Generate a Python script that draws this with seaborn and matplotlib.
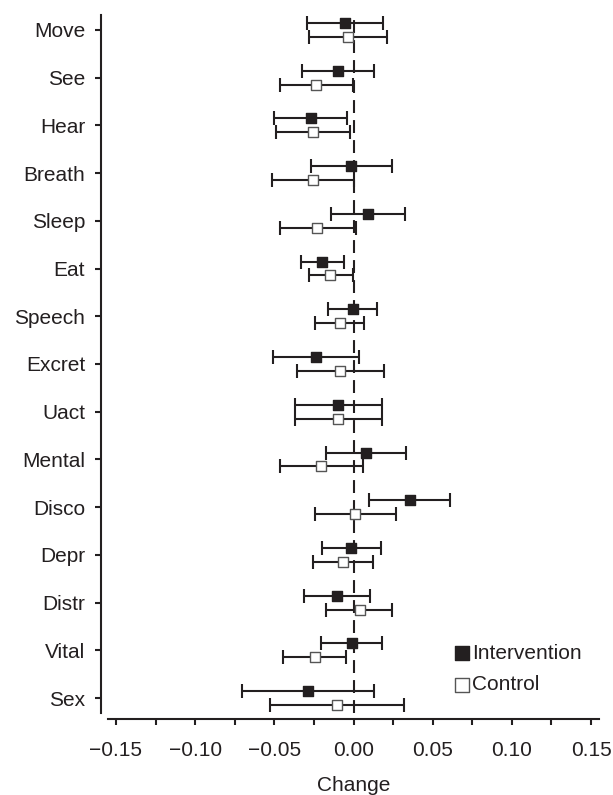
import numpy as np
import pandas as pd
import matplotlib
matplotlib.use("Agg")
import matplotlib.pyplot as plt
from matplotlib.ticker import MultipleLocator
import seaborn as sns

sns.set_style("ticks")
plt.rcParams['font.family'] = ['Liberation Sans', 'DejaVu Sans']

# Data (change with lower / upper limits)
domains = ["Move", "See", "Hear", "Breath", "Sleep", "Eat", "Speech", "Excret",
           "Uact", "Mental", "Disco", "Depr", "Distr", "Vital", "Sex"]

int_mean = [-0.0052, -0.0095, -0.0267, -0.0013, 0.0090, -0.0200, -0.0004, -0.0235,
            -0.0097, 0.0078, 0.0355, -0.0015, -0.0103, -0.0011, -0.0288]
int_low = [-0.0296, -0.0323, -0.0500, -0.0271, -0.0145, -0.0334, -0.0158, -0.0510,
           -0.0372, -0.0176, 0.0101, -0.0202, -0.0311, -0.0204, -0.0704]
int_high = [0.0189, 0.0132, -0.0038, 0.0246, 0.0328, -0.0063, 0.0151, 0.0036,
            0.0180, 0.0334, 0.0607, 0.0176, 0.0107, 0.0180, 0.0132]

ctl_mean = [-0.0034, -0.0237, -0.0254, -0.0254, -0.0229, -0.0149, -0.0088, -0.0086,
            -0.0097, -0.0204, 0.0010, -0.0065, 0.0038, -0.0246, -0.0107]
ctl_low = [-0.0280, -0.0466, -0.0487, -0.0517, -0.0466, -0.0284, -0.0246, -0.0359,
           -0.0372, -0.0466, -0.0246, -0.0254, -0.0172, -0.0443, -0.0527]
ctl_high = [0.0212, -0.0004, -0.0021, 0.0006, 0.0013, -0.0006, 0.0069, 0.0195,
            0.0180, 0.0057, 0.0271, 0.0126, 0.0244, -0.0050, 0.0319]

pos = np.arange(len(domains))
shift = 0.146
ink = "#231f20"

df = pd.concat([
    pd.DataFrame({"domain": domains, "y": pos - shift, "change": int_mean,
                  "low": int_low, "high": int_high, "group": "Intervention"}),
    pd.DataFrame({"domain": domains, "y": pos + shift, "change": ctl_mean,
                  "low": ctl_low, "high": ctl_high, "group": "Control"}),
])

fig = plt.figure(figsize=(6.13, 7.95), dpi=100)
ax = fig.add_axes([108 / 613, 1 - 713 / 795, 491 / 613, 698 / 795])

ax.axvline(0, color=ink, lw=1.5, ls=(0, (6.2, 3.4)), zorder=1)

styles = {"Intervention": dict(color=ink, edgecolor=ink),
          "Control": dict(color="white", edgecolor="#555555")}
for g, st in styles.items():
    d = df[df["group"] == g]
    ax.errorbar(d["change"], d["y"],
                xerr=[d["change"] - d["low"], d["high"] - d["change"]],
                fmt="none", ecolor=ink, elinewidth=1.5, capsize=4.7,
                capthick=1.5, zorder=2)
    sns.scatterplot(x=d["change"], y=d["y"], ax=ax, marker="s", s=52,
                    color=st["color"], edgecolor=st["edgecolor"],
                    linewidth=1.0, label=g, zorder=3)

ax.set_xlim(-0.155, 0.155)
ax.set_ylim(14.31, -0.31)
ax.set_yticks(pos)
ax.set_yticklabels(domains)
ax.xaxis.set_major_locator(MultipleLocator(0.05))
ax.xaxis.set_minor_locator(MultipleLocator(0.025))
ax.xaxis.set_major_formatter(plt.FuncFormatter(lambda v, p: f"{v:.2f}".replace("-", "\u2212")))

for s in ["top", "right"]:
    ax.spines[s].set_visible(False)
ax.spines["left"].set_position(("outward", 5))
ax.spines["bottom"].set_position(("outward", 4.5))
for s in ["left", "bottom"]:
    ax.spines[s].set_linewidth(1.5)
    ax.spines[s].set_color(ink)

ax.tick_params(axis="both", which="both", direction="out", length=4.5,
               width=1.5, color=ink, labelsize=15, labelcolor=ink)
ax.tick_params(axis="y", pad=7)
ax.tick_params(axis="x", pad=11.5)
ax.set_xlabel("Change", fontsize=15, color=ink, labelpad=11)
ax.set_ylabel("")

leg = ax.legend(loc="center left", bbox_to_anchor=(444 / 613, 1 - 669 / 795),
                bbox_transform=fig.transFigure, frameon=False, fontsize=15,
                handlelength=0.7, handletextpad=0.15, labelspacing=0.62,
                markerscale=1.4, borderpad=0)
for t in leg.get_texts():
    t.set_color(ink)

fig.savefig("out.png", dpi=100)
